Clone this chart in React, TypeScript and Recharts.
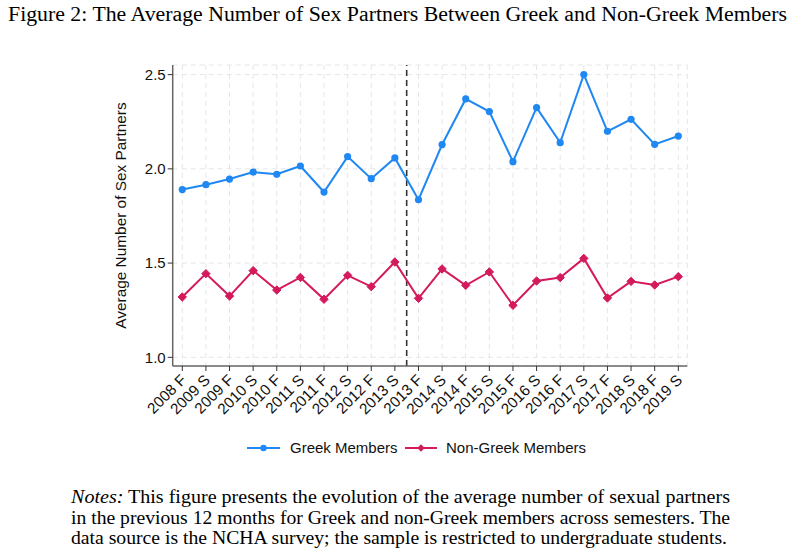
import React from "react";
import {
  LineChart,
  Line,
  XAxis,
  YAxis,
  CartesianGrid,
  ReferenceLine,
} from "recharts";

const categories = [
  "2008 F", "2009 S", "2009 F", "2010 S", "2010 F", "2011 S", "2011 F",
  "2012 S", "2012 F", "2013 S", "2013 F", "2014 S", "2014 F", "2015 S",
  "2015 F", "2016 S", "2016 F", "2017 S", "2017 F", "2018 S", "2018 F",
  "2019 S",
];

const greek = [
  1.89, 1.916, 1.946, 1.983, 1.971, 2.015, 1.877, 2.065, 1.948, 2.058,
  1.836, 2.129, 2.371, 2.304, 2.038, 2.325, 2.139, 2.5, 2.199, 2.263,
  2.13, 2.174,
];

const nonGreek = [
  1.32, 1.444, 1.325, 1.46, 1.357, 1.424, 1.308, 1.435, 1.375, 1.506,
  1.313, 1.469, 1.382, 1.453, 1.276, 1.405, 1.423, 1.525, 1.315, 1.403,
  1.384, 1.428,
];

const yTicks = [1.0, 1.5, 2.0, 2.5];
const policyBreak = 9.5;

const GREEK_COLOR = "#1f88f2";
const NONGREEK_COLOR = "#d41a5c";

const data = categories.map((c, i) => ({
  idx: i,
  label: c,
  greek: greek[i],
  nonGreek: nonGreek[i],
}));

const SANS = "'Liberation Sans', Arial, sans-serif";
const SERIF = "'Liberation Serif', 'Times New Roman', serif";

const XTick = (props: any) => {
  const { x, y, payload } = props;
  return (
    <g transform={`translate(${x - 1},${y + 2})`}>
      <text
        x={0}
        y={0}
        dy="0.55em"
        textAnchor="end"
        transform="rotate(-45)"
        fontSize={15.3}
        fontFamily={SANS}
        fill="#111"
      >
        {categories[payload.value]}
      </text>
    </g>
  );
};

const Diamond = (props: any) => {
  const { cx, cy } = props;
  if (cx == null || cy == null) return null;
  const s = 4.2;
  return (
    <path
      d={`M${cx},${cy - s}L${cx + s},${cy}L${cx},${cy + s}L${cx - s},${cy}Z`}
      fill={NONGREEK_COLOR}
      stroke={NONGREEK_COLOR}
      strokeWidth={1}
    />
  );
};

const Dot = (props: any) => {
  const { cx, cy } = props;
  if (cx == null || cy == null) return null;
  return <circle cx={cx} cy={cy} r={3.6} fill={GREEK_COLOR} />;
};

export default function App() {
  return (
    <div
      style={{
        position: "absolute",
        left: 0,
        top: 0,
        width: 793,
        height: 555,
        background: "#fff",
      }}
    >
      <svg
        width={793}
        height={555}
        style={{ position: "absolute", left: 0, top: 0 }}
      >
        <text
          x={8}
          y={21}
          fontSize={20}
          fontFamily={SERIF}
          fill="#000"
          textLength={779}
          lengthAdjust="spacingAndGlyphs"
        >
          Figure 2: The Average Number of Sex Partners Between Greek and Non-Greek Members
        </text>
        <text
          x={71}
          y={503}
          fontSize={18}
          fontFamily={SERIF}
          fill="#000"
          textLength={659}
          lengthAdjust="spacingAndGlyphs"
        >
          <tspan fontStyle="italic">Notes:</tspan> This figure presents the evolution of the average number of sexual partners
        </text>
        <text
          x={71}
          y={523.5}
          fontSize={18}
          fontFamily={SERIF}
          fill="#000"
          textLength={659}
          lengthAdjust="spacingAndGlyphs"
        >
          in the previous 12 months for Greek and non-Greek members across semesters. The
        </text>
        <text
          x={71}
          y={544}
          fontSize={18}
          fontFamily={SERIF}
          fill="#000"
          textLength={656}
          lengthAdjust="spacingAndGlyphs"
        >
          data source is the NCHA survey; the sample is restricted to undergraduate students.
        </text>
      </svg>
      <div style={{ position: "absolute", left: 0, top: 0 }}>
        <LineChart
          width={793}
          height={555}
          data={data}
          margin={{ top: 65, right: 105.7, left: 112.7, bottom: 129 }}
        >
          <CartesianGrid
            stroke="#e6e6e6"
            strokeDasharray="5 4"
            strokeWidth={1}
          />
          <XAxis
            dataKey="idx"
            type="number"
            domain={[-0.406, 21.381]}
            ticks={categories.map((_, i) => i)}
            interval={0}
            allowDataOverflow
            height={60}
            tick={<XTick />}
            tickSize={5}
            tickMargin={2}
            stroke="#666"
            strokeWidth={1.5}
            tickLine={{ stroke: "#333", strokeWidth: 1 }}
          />
          <YAxis
            type="number"
            domain={[0.954, 2.551]}
            ticks={yTicks}
            allowDataOverflow
            width={60}
            tickFormatter={(v: number) => v.toFixed(1)}
            tick={{ fontSize: 15, fontFamily: SANS, fill: "#111" }}
            tickSize={5}
            tickMargin={2}
            stroke="#666"
            strokeWidth={1.5}
            tickLine={{ stroke: "#333", strokeWidth: 1 }}
            label={{
              value: "Average Number of Sex Partners",
              angle: -90,
              position: "insideLeft",
              offset: 0,
              dx: 8,
              dy: 0,
              style: { fontSize: 15.4, fontFamily: SANS, fill: "#111", textAnchor: "middle" },
            }}
          />
          <ReferenceLine
            x={policyBreak}
            stroke="#333"
            strokeWidth={1.6}
            strokeDasharray="6 4"
          />
          <Line
            type="linear"
            dataKey="greek"
            stroke={GREEK_COLOR}
            strokeWidth={2}
            dot={<Dot />}
            activeDot={false}
            isAnimationActive={false}
          />
          <Line
            type="linear"
            dataKey="nonGreek"
            stroke={NONGREEK_COLOR}
            strokeWidth={2}
            dot={<Diamond />}
            activeDot={false}
            isAnimationActive={false}
          />
        </LineChart>
      </div>
      <div
        style={{
          position: "absolute",
          top: 438,
          left: 0,
          width: 793,
          height: 20,
          fontFamily: SANS,
          fontSize: 15,
          color: "#111",
        }}
      >
        <svg width={793} height={20} style={{ position: "absolute", left: 0, top: 0 }}>
          <line x1={247} x2={280} y1={10} y2={10} stroke={GREEK_COLOR} strokeWidth={2} />
          <circle cx={263.5} cy={10} r={3.2} fill={GREEK_COLOR} />
          <text x={290} y={15.3} fontSize={15} fontFamily={SANS} fill="#111">
            Greek Members
          </text>
          <line x1={405} x2={437} y1={10} y2={10} stroke={NONGREEK_COLOR} strokeWidth={2} />
          <path d="M421,6.3L424.7,10L421,13.7L417.3,10Z" fill={NONGREEK_COLOR} />
          <text x={446} y={15.3} fontSize={15} fontFamily={SANS} fill="#111">
            Non-Greek Members
          </text>
        </svg>
      </div>
    </div>
  );
}
